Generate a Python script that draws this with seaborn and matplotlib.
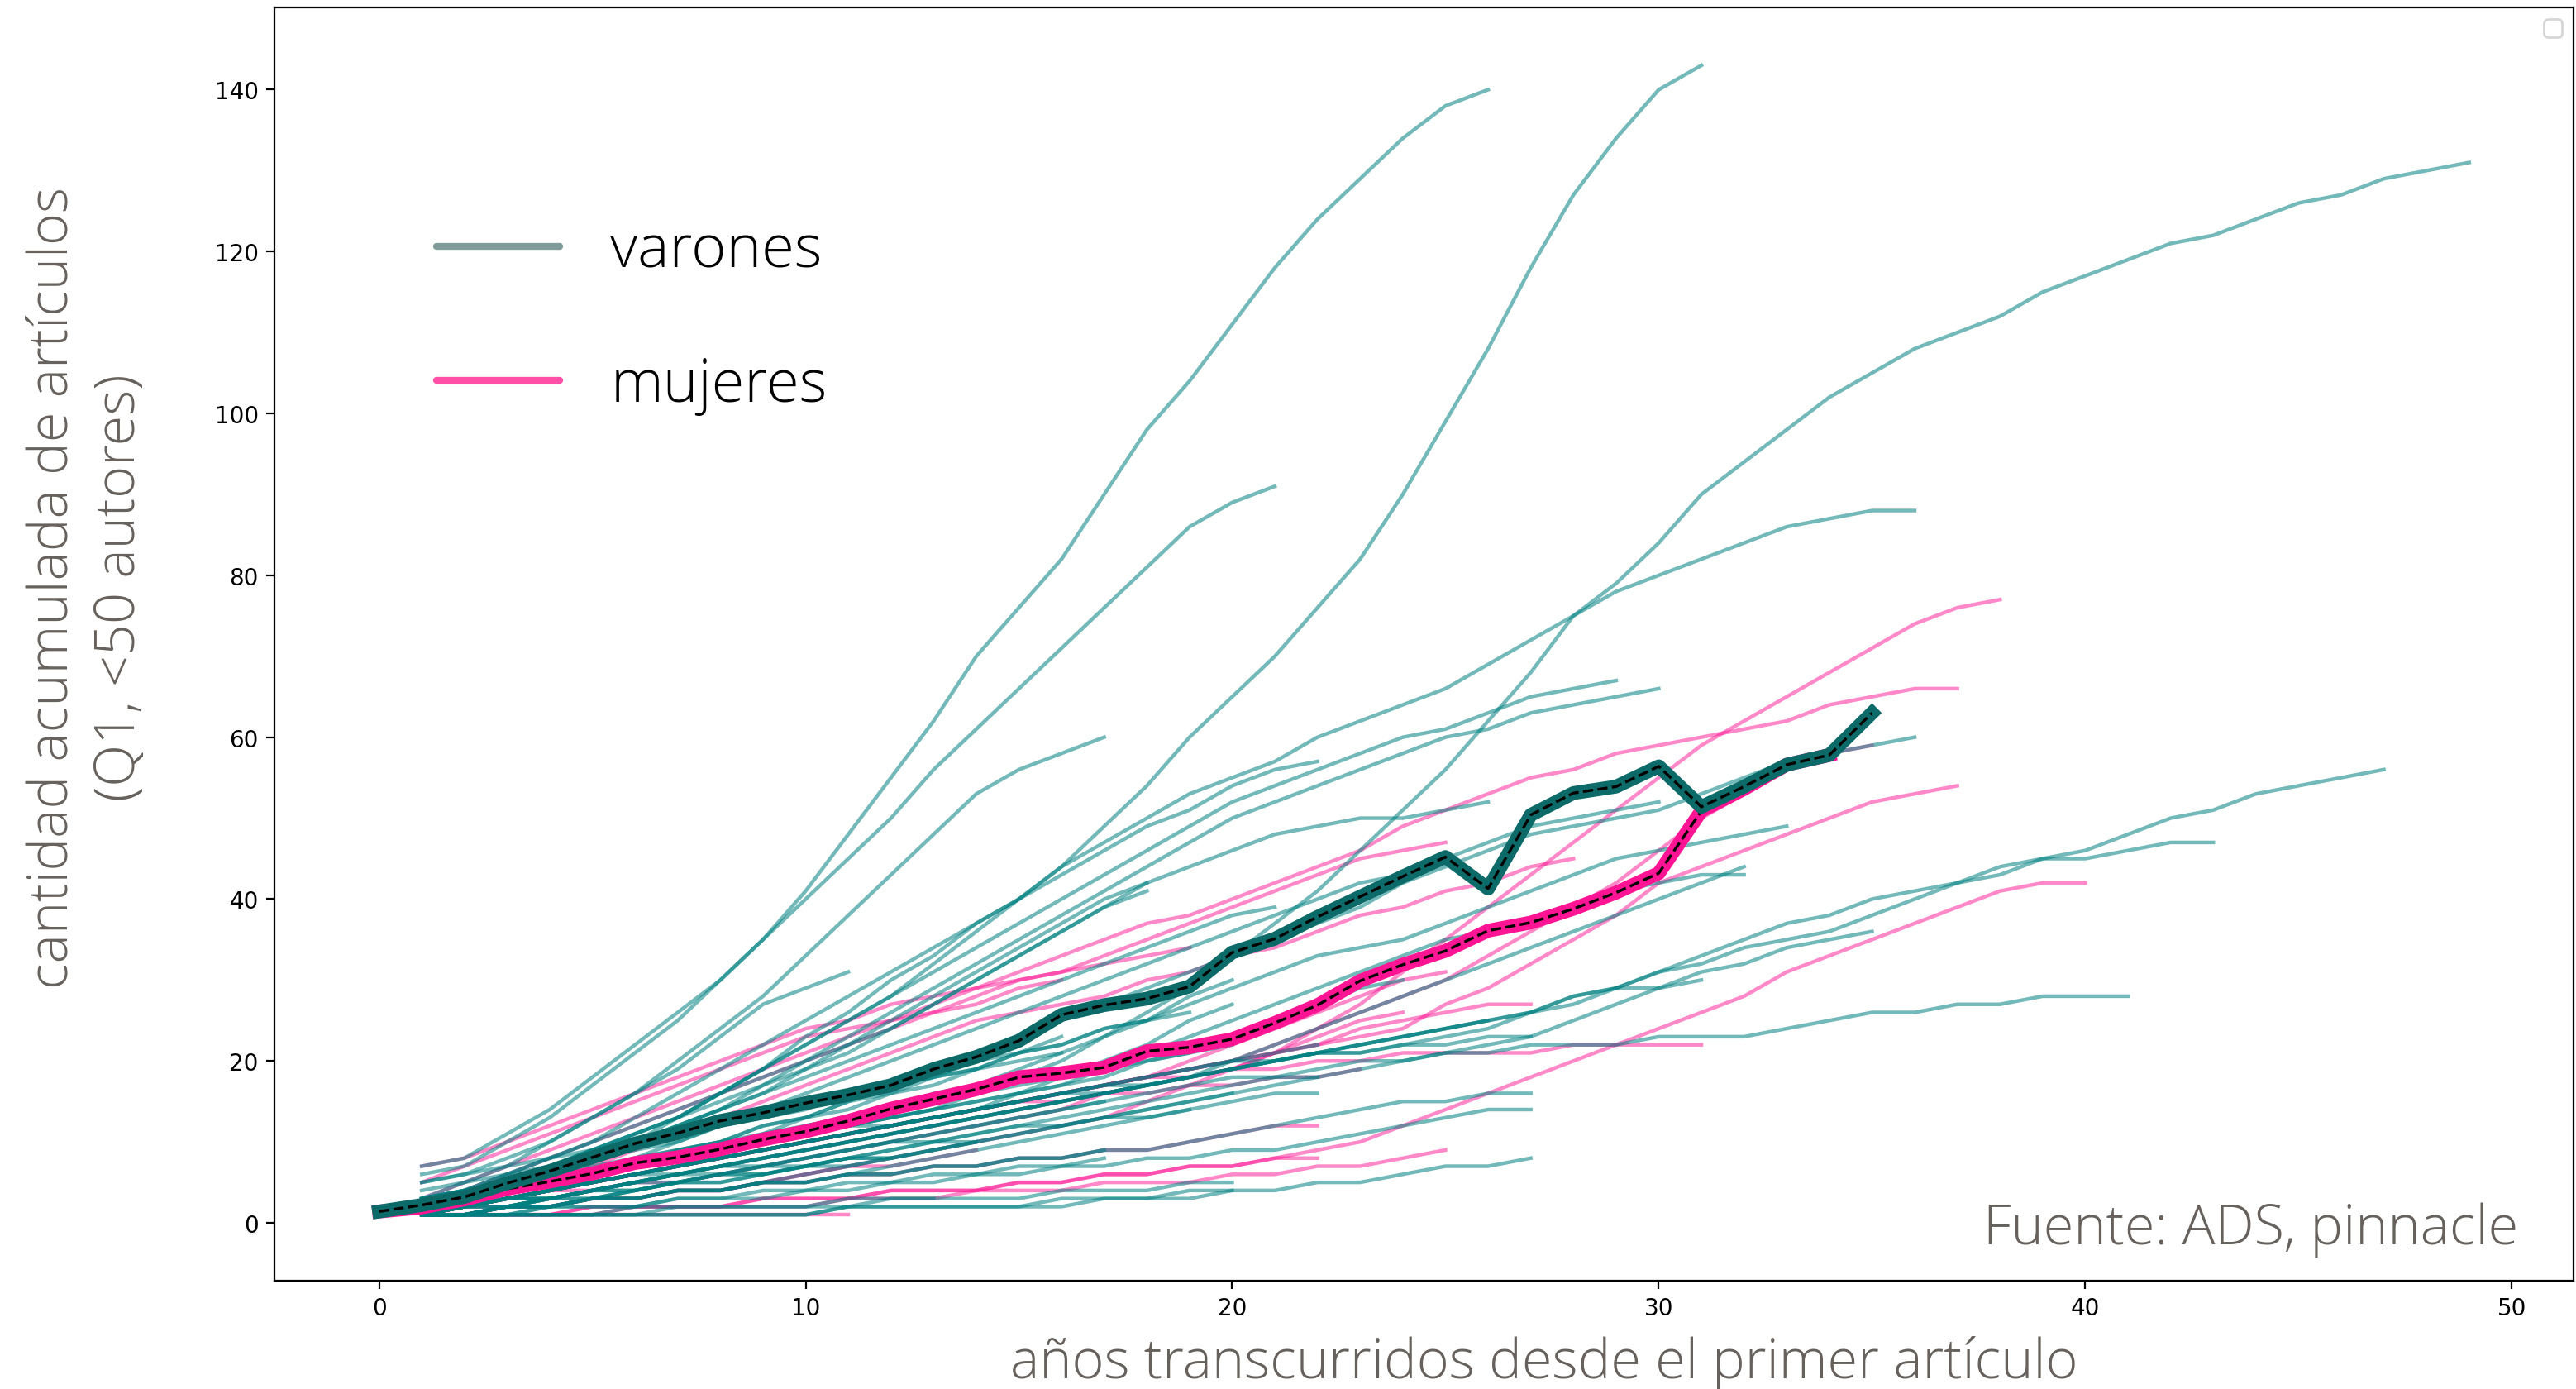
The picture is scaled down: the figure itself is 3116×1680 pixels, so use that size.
import matplotlib
matplotlib.use('Agg')
import matplotlib.pyplot as plt
import pandas as pd
import seaborn as sns
from matplotlib.lines import Line2D

# Artículos acumulados por autor (año 1 = primer artículo), leídos del gráfico
# varones
v01 = [7, 8, 11, 14, 18, 22, 26, 30, 35, 41, 48, 55, 62, 70, 76, 82, 90, 98, 104, 111, 118, 124, 129, 134, 138, 140]
v02 = [3, 4, 5, 7, 9, 11, 13, 16, 19, 22, 25, 28, 32, 36, 40, 44, 49, 54, 60, 65, 70, 76, 82, 90, 99, 108, 118, 127, 134, 140, 143]
v03 = [2, 3, 4, 5, 6, 7, 8, 9, 10, 11, 12, 13, 14, 16, 18, 20, 23, 26, 29, 33, 37, 41, 46, 51, 56, 62, 68, 75, 79, 84,
       90, 94, 98, 102, 105, 108, 110, 112, 115, 117, 119, 121, 122, 124, 126, 127, 129, 130, 131]
v04 = [2, 3, 4, 6, 8, 10, 13, 16, 19, 23, 26, 30, 33, 37, 40, 44, 47, 50, 53, 55, 57, 60, 62, 64, 66, 69, 72, 75, 78, 80,
       82, 84, 86, 87, 88, 88]
v05 = [3, 4, 6, 8, 10, 13, 16, 19, 22, 25, 28, 31, 34, 37, 40, 43, 46, 49, 51, 54, 56, 57]
v06 = [6, 7, 10, 13, 17, 21, 25, 30, 35, 40, 45, 50, 56, 61, 66, 71, 76, 81, 86, 89, 91]
v07 = [3, 5, 7, 10, 13, 16, 20, 24, 28, 33, 38, 43, 48, 53, 56, 58, 60]
v08 = [3, 4, 5, 7, 9, 11, 13, 16, 19, 22, 25, 28, 31, 34, 37, 40, 43, 46, 49, 52, 54, 56, 58, 60, 61, 63, 65, 66, 67]
v09 = [2, 3, 5, 6, 8, 10, 12, 14, 17, 20, 23, 26, 29, 32, 35, 38, 41, 44, 47, 50, 52, 54, 56, 58, 60, 61, 63, 64, 65, 66]
v10 = [2, 3, 4, 6, 8, 10, 12, 14, 16, 19, 22, 25, 28, 31, 34, 37, 40, 42, 44, 46, 48, 49, 50, 50, 51, 52]
v11 = [2, 3, 4, 5, 6, 7, 8, 9, 11, 13, 15, 17, 19, 21, 23, 25, 27, 29, 31, 33, 35, 37, 39, 42, 44, 46, 48, 49, 50, 51,
       53, 55, 57, 58, 59, 60]
v12 = [1, 2, 3, 4, 5, 6, 7, 8, 9, 10, 11, 12, 13, 14, 15, 16, 17, 17, 18, 19, 20, 21, 21, 22, 23, 24, 26, 27, 29, 31,
       33, 35, 37, 38, 40, 41, 42, 44, 45, 46, 48, 50, 51, 53, 54, 55, 56]
v13 = [1, 1, 2, 3, 4, 5, 6, 7, 8, 9, 10, 11, 12, 13, 14, 15, 16, 17, 18, 19, 20, 21, 22, 23, 24, 25, 26, 28, 29, 31,
       32, 34, 35, 36, 38, 40, 42, 43, 45, 45, 46, 47, 47]
v14 = [1, 2, 3, 3, 4, 5, 6, 6, 7, 8, 9, 10, 10, 11, 12, 13, 14, 15, 16, 17, 18, 18, 19, 20, 21, 21, 22, 22, 22, 23,
       23, 23, 24, 25, 26, 26, 27, 27, 28, 28, 28]
v15 = [2, 3, 4, 5, 6, 7, 9, 10, 12, 13, 15, 16, 18, 19, 21, 22, 24, 25, 27, 29, 31, 33, 34, 35, 37, 39, 41, 43, 45, 46,
       47, 48, 49]
v16 = [1, 2, 3, 4, 5, 6, 7, 8, 9, 10, 11, 12, 13, 14, 15, 16, 17, 18, 19, 20, 22, 24, 26, 28, 30, 32, 34, 36, 38, 40, 42, 44]
v17 = [2, 3, 4, 5, 6, 7, 8, 9, 10, 11, 12, 13, 14, 15, 16, 17, 19, 21, 23, 25, 27, 29, 31, 33, 35, 36, 37, 39, 41, 42, 43, 43]
v18 = [1, 2, 2, 3, 4, 5, 6, 7, 8, 9, 10, 11, 12, 13, 14, 15, 16, 17, 18, 19, 20, 21, 22, 23, 24, 25, 26, 28, 29, 29, 30]
v19 = [1, 1, 2, 2, 3, 4, 5, 6, 7, 8, 9, 10, 11, 12, 13, 14, 15, 16, 17, 18, 18, 19, 20, 20, 21, 22, 23, 25, 27, 29,
       31, 32, 34, 35, 36]
v20 = [1, 2, 3, 4, 5, 6, 7, 8, 9, 10, 11, 12, 13, 14, 15, 16, 17, 18, 19, 20, 20, 21, 21, 22, 22, 23, 23]
v21 = [1, 1, 2, 2, 3, 3, 4, 4, 5, 5, 6, 6, 7, 7, 8, 8, 9, 9, 10, 11, 12, 13, 14, 15, 15, 16, 16]
v22 = [1, 1, 1, 2, 2, 2, 3, 3, 3, 4, 4, 5, 5, 6, 6, 7, 7, 8, 8, 9, 9, 10, 11, 12, 13, 14, 14]
v23 = [1, 1, 1, 1, 1, 1, 1, 1, 1, 1, 2, 2, 2, 2, 2, 3, 3, 3, 4, 4, 4, 5, 5, 6, 7, 7, 8]
v24 = [2, 3, 4, 5, 6, 8, 10, 12, 14, 16, 18, 20, 22, 24, 26, 28, 30, 32, 34, 36, 38, 40, 42, 43, 45, 47, 49, 50, 51, 52]
v25 = [5, 6, 8, 10, 13, 16, 19, 23, 27, 29, 31]
v26 = [3, 4, 6, 8, 10, 12, 14, 16, 18, 20, 22, 24, 27, 30, 33, 36, 39, 42]
v27 = [2, 3, 5, 7, 9, 11, 13, 15, 17, 19, 21, 24, 27, 30, 33, 36, 39, 41]
v28 = [2, 3, 4, 6, 8, 10, 12, 14, 16, 18, 20, 22, 24, 26, 28, 30, 32, 34, 36, 38, 39]
v29 = [1, 2, 3, 4, 6, 7, 8, 9, 10, 12, 13, 14, 16, 17, 19, 21, 23, 25, 28, 30]
v30 = [1, 2, 3, 4, 5, 6, 7, 8, 9, 10, 11, 12, 13, 14, 16, 18, 20, 22, 25, 27]
v31 = [1, 1, 2, 2, 3, 3, 4, 4, 5, 5, 6, 7, 8, 9, 10, 11, 12, 13, 14, 15, 16, 16]
v32 = [1, 1, 1, 1, 1, 2, 2, 2, 2, 2, 2, 3, 3, 3, 3, 4, 4, 4, 5, 5]
v33 = [1, 1, 1, 1, 1, 1, 1, 1, 1, 1, 2, 2, 2, 2, 2, 2, 3, 3, 3, 4]
v34 = [1, 1, 1, 1, 1, 1, 2, 2, 2, 2, 3, 3, 3]
v35 = [1, 2, 3, 3, 4, 5, 6, 7, 7, 8, 9, 10, 11, 12, 13, 14, 15]
v36 = [2, 3, 4, 5, 6, 7, 8, 9, 10, 11, 12, 12, 13, 14, 15, 16, 16, 17]
v37 = [1, 1, 2, 3, 3, 4, 5, 5, 6, 7, 8, 8, 9, 10, 11, 12, 13, 14, 15, 16]
v38 = [2, 3, 4, 5, 6, 7, 8, 9, 10, 11, 12, 13, 14, 15, 16, 17, 18, 20, 21, 23, 25, 27, 29, 30]
v39 = [1, 2, 2, 3, 3, 4, 5, 5, 6, 7, 7, 8, 9, 10]
v40 = [1, 2, 3, 4, 5, 6, 6, 7, 8, 9, 10, 11, 12, 13, 14, 15, 16, 17, 18, 20, 21, 22]
v41 = [2, 3, 4, 5, 6, 8, 9, 10, 12, 13, 14, 16, 17, 19, 21, 23]
v42 = [1, 1, 2, 2, 3, 3, 4, 4, 5, 6, 7, 8]
v43 = [1, 1, 2, 2, 3, 3, 4, 4, 5, 5, 6, 6, 7, 7, 8, 8, 9]
v44 = [2, 2, 3, 3, 4, 5, 5, 6, 7, 7, 8, 9, 10, 10, 11, 12, 13, 13, 14]
v45 = [1, 2, 2, 3, 4, 4, 5, 6, 6, 7, 8, 9, 10, 11, 12, 12, 13, 14, 15, 16, 17, 18]
v46 = [1, 1, 1, 2, 2, 2, 3, 3, 4, 4, 5, 5, 6, 6, 7, 7, 8]
v47 = [3, 4, 5, 6, 7, 8, 9, 10, 11, 12, 13, 14, 15, 16, 17, 18, 19, 20, 21, 22]
v48 = [2, 3, 3, 4, 5, 6, 7, 8, 9, 10, 11, 12, 13, 14, 15]
v49 = [4, 5, 6, 7, 8, 9, 10, 12, 13, 14, 16, 17, 18, 20, 21, 22, 24, 25, 26]
v50 = [1, 1, 2, 3, 4, 5, 6, 7, 8, 9, 10, 11, 12, 13, 14, 15, 16, 17, 18, 19, 20, 21, 22, 23, 24, 25]
v51 = [2, 2, 3, 3, 4, 4, 5, 6, 6, 7, 8, 8, 9, 10]
v52 = [5, 6, 7, 8, 9, 10, 11, 12, 14, 15, 16, 17, 18, 19, 20, 21]

# mujeres
m01 = [1, 1, 2, 2, 3, 3, 4, 4, 5, 6, 7, 8, 9, 10, 11, 12, 13, 15, 17, 19, 21, 24, 27, 31, 35, 39, 43, 47, 51, 55,
       59, 62, 65, 68, 71, 74, 76, 77]
m02 = [3, 5, 7, 9, 11, 13, 15, 17, 19, 21, 23, 25, 27, 29, 31, 33, 35, 37, 38, 40, 42, 44, 46, 49, 51, 53, 55, 56, 58, 59,
       60, 61, 62, 64, 65, 66, 66]
m03 = [1, 2, 3, 4, 5, 6, 7, 8, 9, 10, 11, 12, 13, 14, 15, 16, 17, 18, 19, 20, 21, 22, 23, 24, 27, 29, 32, 35, 38, 42,
       44, 46, 48, 50, 52, 53, 54]
m04 = [1, 1, 1, 1, 2, 2, 2, 2, 3, 3, 3, 4, 4, 4, 5, 5, 6, 6, 7, 7, 8, 9, 10, 12, 14, 16, 18, 20, 22, 24,
       26, 28, 31, 33, 35, 37, 39, 41, 42, 42]
m05 = [1, 2, 3, 4, 5, 6, 7, 8, 9, 10, 11, 12, 13, 14, 15, 16, 17, 18, 18, 19, 19, 20, 20, 21, 21, 21, 21, 22, 22, 22, 22]
m06 = [2, 3, 4, 5, 7, 9, 11, 13, 15, 17, 19, 21, 23, 25, 26, 27, 28, 30, 31, 33, 34, 36, 38, 39, 41, 42, 44, 45]
m07 = [1, 2, 3, 4, 5, 6, 7, 8, 9, 10, 11, 12, 13, 14, 15, 16, 17, 18, 20, 22, 24, 26, 28, 30, 31]
m08 = [1, 1, 1, 1, 1, 2, 2, 2, 2, 2, 3, 3, 3, 4, 4, 4, 5, 5, 5, 6, 6, 7, 7, 8, 9]
m09 = [2, 4, 6, 8, 10, 12, 14, 16, 18, 20, 22, 24, 26, 28, 30, 31, 33, 35, 37, 39, 41, 43, 45, 46, 47]
m10 = [7, 8, 10, 12, 14, 16, 18, 20, 22, 24, 25, 27, 28, 29, 30, 31, 32, 33, 34]
m11 = [5, 7, 9, 11, 13, 15, 17, 19, 21, 23, 24, 25, 26, 27, 29, 30]
m12 = [1, 1, 2, 2, 3, 3, 4, 4, 5, 5, 6, 6, 7, 7, 8, 8, 9, 9, 10, 11, 12, 12]
m13 = [1, 1, 1, 1, 2, 2, 2, 2, 3, 3, 3, 4, 4, 4, 5, 5, 6, 6, 7, 7, 8, 8]
m14 = [1, 1, 1, 1, 1, 1, 1, 1, 1, 1, 1]
m15 = [1, 2, 3, 4, 5, 6, 7, 8, 9, 10, 11, 12, 13, 14, 15, 15, 16, 16, 17, 17, 18, 18, 19]
m16 = [1, 2, 3, 4, 5, 6, 7, 8, 9, 10, 11, 12, 13, 14, 15, 16, 17, 18, 19, 20, 22, 24, 26, 28, 30, 33, 36, 39, 42, 46,
       50, 53, 56, 58, 59]
m17 = [1, 2, 2, 3, 4, 5, 5, 6, 7, 8, 9, 10, 11, 12, 13, 14, 16, 17]
m18 = [1, 2, 3, 4, 5, 6, 7, 8, 9, 10, 11, 12, 13, 14, 15, 16, 17, 18, 19, 20, 21, 23, 25, 26]
m19 = [1, 1, 2, 2, 3, 3, 4, 4, 5, 6, 7, 7, 8, 9]
m20 = [1, 2, 3, 4, 4, 5, 6, 7, 8, 9, 10, 11, 12, 13, 14, 15, 16, 17, 18, 19, 21, 22, 24, 25, 26, 27, 27]

# promedios (año 0 en adelante)
media_varones = [1.4, 2.2, 3.2, 4.9, 6.4, 8.1, 9.8, 11.1, 12.6, 13.6, 14.8, 15.8, 17.0, 19.0, 20.5, 22.5, 25.7, 26.9,
                 27.7, 29.2, 33.4, 35.1, 37.8, 40.3, 42.8, 45.2, 41.3, 50.4, 53.1, 53.9, 56.4, 51.4, 53.9, 56.6, 57.8, 63.0]
media_mujeres = [1.4, 1.9, 2.9, 4.2, 5.1, 6.1, 7.4, 8.1, 9.1, 10.3, 11.3, 12.6, 14.1, 15.3, 16.5, 18.0, 18.5, 19.2,
                 21.2, 21.7, 22.7, 24.7, 26.9, 29.9, 31.9, 33.6, 36.1, 37.1, 38.8, 40.8, 43.2, 50.9, 53.6, 56.6, 57.8]

varones = [v01, v02, v03, v04, v05, v06, v07, v08, v09, v10, v11, v12, v13, v14, v15, v16, v17, v18, v19, v20, v21,
           v22, v23, v24, v25, v26, v27, v28, v29, v30, v31, v32, v33, v34, v35, v36, v37, v38, v39, v40, v41, v42,
           v43, v44, v45, v46, v47, v48, v49, v50, v51, v52]
mujeres = [m01, m02, m03, m04, m05, m06, m07, m08, m09, m10, m11, m12, m13, m14, m15, m16, m17, m18, m19, m20]


def to_long(series, tag):
    rows = []
    for i, serie in enumerate(series):
        for anio, n in enumerate(serie, start=1):
            rows.append({'autor': f'{tag}{i}', 'anio': anio, 'articulos': n})
    return pd.DataFrame(rows)


df_v = to_long(varones, 'v')
df_m = to_long(mujeres, 'm')
df_media_v = pd.DataFrame({'anio': range(len(media_varones)), 'articulos': media_varones})
df_media_m = pd.DataFrame({'anio': range(len(media_mujeres)), 'articulos': media_mujeres})

light = dict(family='Open Sans', fontweight='light')
gris = '#66615c'

fig = plt.figure(figsize=(15.58, 8.405), dpi=200)
ax = fig.add_axes([0.1066, 0.0779, 0.8925, 0.9161])

# trayectorias individuales (mujeres debajo)
sns.lineplot(data=df_m, x='anio', y='articulos', units='autor', estimator=None,
             color='deeppink', alpha=0.5, lw=1.6, ax=ax, legend=False)
sns.lineplot(data=df_v, x='anio', y='articulos', units='autor', estimator=None,
             color='teal', alpha=0.55, lw=1.6, ax=ax, legend=False)

# promedios
sns.lineplot(data=df_media_m, x='anio', y='articulos', color='deeppink', lw=6, ax=ax)
sns.lineplot(data=df_media_m, x='anio', y='articulos', color='black', lw=1.2, linestyle='--', ax=ax)
sns.lineplot(data=df_media_v, x='anio', y='articulos', color='#0c6a69', lw=6, ax=ax)
sns.lineplot(data=df_media_v, x='anio', y='articulos', color='black', lw=1.2, linestyle='--', ax=ax)

ax.set_xlim(-2.45, 51.45)
ax.set_ylim(-7.15, 150.15)
ax.set_xticks([0, 10, 20, 30, 40, 50])
ax.set_yticks([0, 20, 40, 60, 80, 100, 120, 140])
ax.tick_params(labelsize=10)

ax.set_xlabel('años transcurridos desde el primer artículo', fontsize=24, color=gris, **light)
ax.set_ylabel('cantidad acumulada de artículos\n(Q1, <50 autores)', fontsize=24, color=gris,
              linespacing=1.3, **light)
ax.xaxis.set_label_coords(0.552, -0.043)
ax.yaxis.set_label_coords(-0.055, 0.545)

handles = [Line2D([0], [0], color='#7f9b9a', lw=3, solid_capstyle='round'),
           Line2D([0], [0], color='#ff4fa6', lw=3, solid_capstyle='round')]
leg = ax.legend(handles, ['varones', 'mujeres'], loc='upper left', bbox_to_anchor=(0.0705, 0.832),
                frameon=False, borderpad=0, borderaxespad=0, handlelength=2.06, handletextpad=0.85,
                labelspacing=1.25, prop={'family': 'Open Sans', 'weight': 'light', 'size': 26})
ax.add_artist(leg)
ax.legend(handles=[], labels=[], loc='upper right')

ax.text(0.976, 0.029, 'Fuente: ADS, pinnacle', transform=ax.transAxes, ha='right', va='baseline',
        fontsize=24, color=gris, **light)

fig.savefig('out.png', dpi=200)
